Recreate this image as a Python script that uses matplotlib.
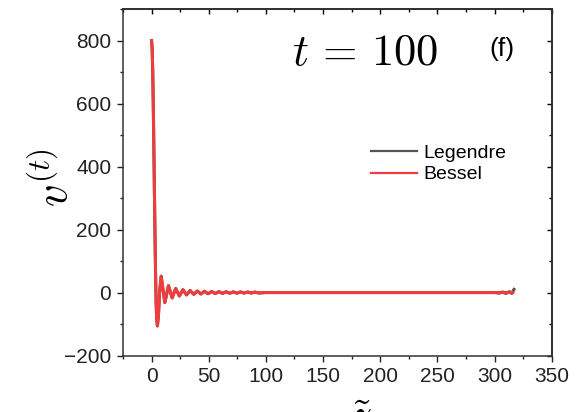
import matplotlib
matplotlib.use('Agg')
import matplotlib.pyplot as plt
from matplotlib.ticker import MultipleLocator

plt.rcParams['font.family'] = ['Liberation Sans', 'DejaVu Sans']
plt.rcParams['mathtext.fontset'] = 'cm'

# values
z_bessel = [0, 0.5, 1, 1.5, 2, 2.5, 3, 3.5, 4, 4.5,
            5.1, 6, 7, 8.4, 11.6, 14.8, 18.0, 21.1, 24.3, 27.4,
            30.6, 33.7, 36.9, 40.0, 43.2, 46.3, 49.4, 52.6, 55.7, 58.9,
            62.0, 65.2, 68.3, 71.5, 74.6, 77.8, 80.9, 84.1, 87.2, 90.4,
            93.5, 100, 316]
v_bessel = [800, 776, 704, 596, 461, 320, 181, 59, -36, -82,
            -106, -74, 0, 52, -32, 22, -17, 13, -11, 9,
            -7.5, 6.5, -5.7, 5, -4.5, 4, -3.7, 3.3, -3.1, 2.8,
            -2.6, 2.4, -2.3, 2.1, -2.0, 1.9, -1.8, 1.7, -1.6, 1.5,
            -1.4, 0, 0]

# Legendre follows Bessel, apart from a small wiggle at the far end
z_tail = [300, 304, 307, 310, 313, 315, 317]
v_tail = [0, -2, 2, -3, 3, -3, 10]
z_legendre = z_bessel[:-1] + z_tail
v_legendre = v_bessel[:-1] + v_tail

xticks = [0, 50, 100, 150, 200, 250, 300, 350]
yticks = [-200, 0, 200, 400, 600, 800]

fig = plt.figure(figsize=(5.84, 4.12), dpi=100)
ax = fig.add_axes([0.2106, 0.1371, 0.7341, 0.8406])

ax.plot(z_legendre, v_legendre, color='#555555', lw=2.2, label='Legendre')
ax.plot(z_bessel, v_bessel, color='#f03c3c', lw=2.2, label='Bessel')

ax.set_xlim(-25, 350)
ax.set_ylim(-200, 900)
ax.set_xticks(xticks)
ax.set_yticks(yticks)
ax.xaxis.set_minor_locator(MultipleLocator(25))
ax.yaxis.set_minor_locator(MultipleLocator(100))
ax.tick_params(which='major', direction='out', length=4.5, width=1.0,
               labelsize=15, pad=4, colors='#222222')
ax.tick_params(which='minor', direction='out', length=2.2, width=1.0,
               colors='#222222')
for sp in ax.spines.values():
    sp.set_linewidth(1.1)
    sp.set_color('#333333')

# mirrored inward ticks on top and right
secx = ax.secondary_xaxis('top')
secx.set_xticks(xticks)
secx.xaxis.set_minor_locator(MultipleLocator(25))
secx.tick_params(which='major', direction='in', length=3.5, width=1.0, labeltop=False)
secx.tick_params(which='minor', direction='in', length=2.2, width=1.0)
secx.spines['top'].set_linewidth(1.1)
secy = ax.secondary_yaxis('right')
secy.set_yticks(yticks)
secy.yaxis.set_minor_locator(MultipleLocator(100))
secy.tick_params(which='major', direction='in', length=3.5, width=1.0, labelright=False)
secy.tick_params(which='minor', direction='in', length=2.2, width=1.0)
secy.spines['right'].set_linewidth(1.1)

ax.set_ylabel(r'$v^{(t)}$', fontsize=32)
ax.yaxis.set_label_coords(-0.107, 0.513)
ax.set_xlabel(r'$\tilde{z}$', fontsize=32)
ax.xaxis.set_label_coords(0.553, -0.123)

ax.text(0.394, 0.839, r'$t\,=\,100$', transform=ax.transAxes, fontsize=32,
        ha='left', va='baseline')
ax.text(0.855, 0.885, '(f)', transform=ax.transAxes, fontsize=19,
        ha='left', va='center')

leg = ax.legend(loc='upper left', bbox_to_anchor=(0.578, 0.610), frameon=False,
                fontsize=14, handlelength=2.4, handletextpad=0.3,
                labelspacing=0.2, borderpad=0, borderaxespad=0)
for line in leg.get_lines():
    line.set_linewidth(1.6)

fig.savefig('out.png', dpi=100)
